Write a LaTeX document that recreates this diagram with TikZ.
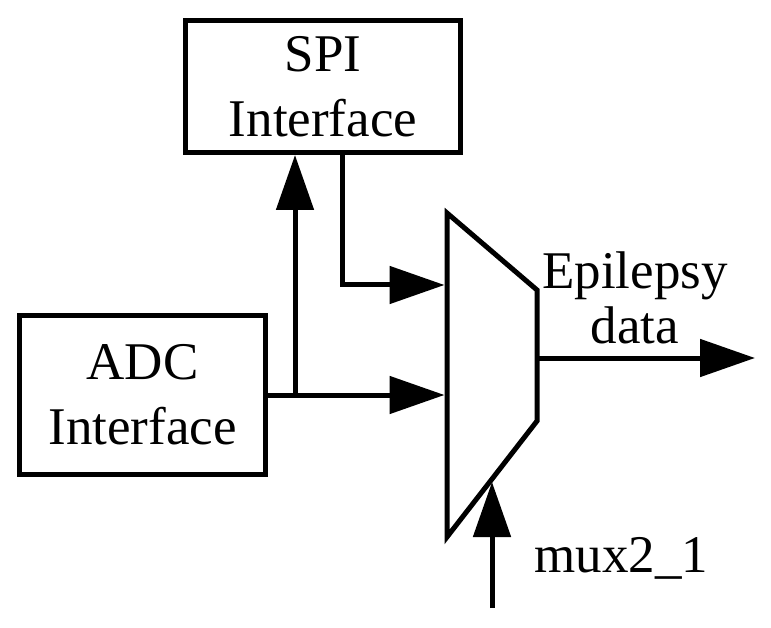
\documentclass[tikz,border=0pt]{standalone}
\usepackage{fontspec}
\setmainfont{Liberation Serif}
\usetikzlibrary{arrows.meta,calc}
\begin{document}
\begin{tikzpicture}[x=1pt,y=-1pt,
  line width=5pt,
  blk/.style={draw, rectangle, inner sep=0pt, align=center,
    font=\fontsize{53}{65}\selectfont},
  lbl/.style={inner sep=0pt, font=\fontsize{53}{55}\selectfont},
  conn/.style={-{Triangle[length=55pt,width=37pt]}}]
\path[use as bounding box] (0,0) rectangle (771,628);
% blocks
\node[blk, minimum width=275pt, minimum height=132pt] (spi) at (323,86.5) {SPI\\Interface};
\node[blk, minimum width=246pt, minimum height=159pt] (adc) at (142.5,395) {ADC\\Interface};
% multiplexer
\coordinate (m1) at (447,213);
\coordinate (m2) at (537,290);
\coordinate (m3) at (537,421);
\coordinate (m4) at (447,537);
\draw (m1) -- (m2) -- (m3) -- (m4) -- cycle;
\coordinate (in1) at (444.5,285);
\coordinate (in2) at (444.5,395);
\coordinate (out) at (537,358);
\coordinate (outend) at (755,358);
\coordinate (selbot) at (492,608);
\coordinate (seltop) at (492,482);
\coordinate (br) at (295,395);
% connectors
\draw[conn] ([xshift=19pt]spi.south) |- (in1);
\draw[conn] (adc.east) -- (in2);
\draw[conn] (br) -- (br |- spi.south);
\draw[conn] (out) -- (outend);
\draw[conn] (selbot) -- (seltop);
% labels
\node[lbl, align=center] (epi) at (635,297.5) {Epilepsy\\data};
\node[lbl, anchor=base west] (sel) at (532,572) {mux2\_1};
\end{tikzpicture}
\end{document}
